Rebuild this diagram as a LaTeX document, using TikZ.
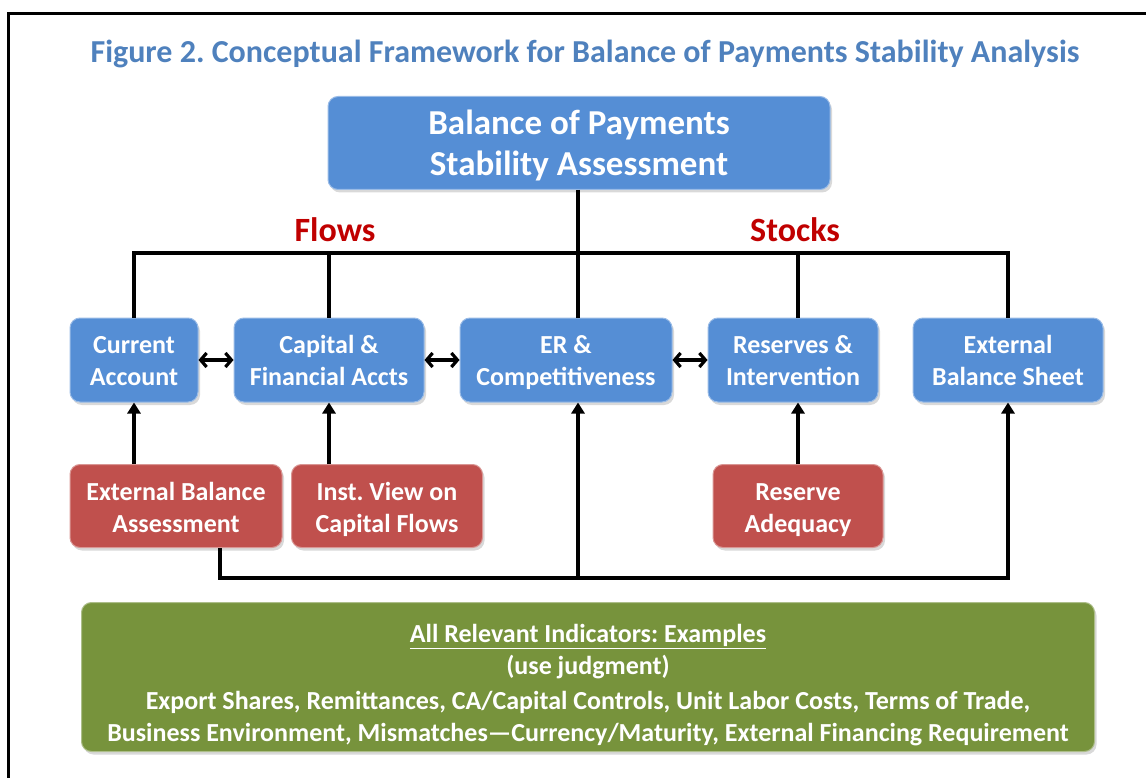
\documentclass[tikz,border=0pt]{standalone}
\usepackage{fontspec}
\setmainfont{Carlito}
\usetikzlibrary{arrows.meta,shadows}
\definecolor{bopcolor0000}{RGB}{79,129,189}
\definecolor{bopcolor0001}{RGB}{85,142,213}
\definecolor{bopcolor0002}{RGB}{192,80,77}
\definecolor{bopcolor0003}{RGB}{119,147,60}
\definecolor{bopcolor0004}{RGB}{192,0,0}
\frenchspacing
\newcommand{\boptab}[2]{\begin{tabular}{@{}c@{}}\rule{0pt}{\dimexpr\ht\strutbox+#1\relax}#2\end{tabular}}
\begin{document}
\begin{tikzpicture}[yscale=-1
,pbox/.style={rounded corners=10pt,line width=1pt,text=white,inner sep=0pt,font=\bfseries\fontsize{26}{32}\selectfont,drop shadow={opacity=0.3,shadow xshift=2pt,shadow yshift=-3pt}}
,pblue/.style={pbox,fill=bopcolor0001,draw=bopcolor0001!60!white,minimum height=84pt}
,pred/.style={pbox,fill=bopcolor0002,draw=bopcolor0002!60!white,minimum height=83pt}
,pstyle1/.style={color=black,line width=3.2pt}
,pstyle2/.style={pstyle1,{Straight Barb[length=6pt,width=14pt]}-{Straight Barb[length=6pt,width=14pt]}}
,pstyle3/.style={pstyle1,-{Triangle[length=11pt,width=13pt]}}
]
\useasboundingbox (0pt,0pt) rectangle (1146pt,778pt);
\draw[line width=3pt] (8pt,14pt) rectangle (1170pt,800pt);
\node (title) at (585pt,54pt)[color=bopcolor0000,font=\bfseries\fontsize{32}{38}\selectfont]{Figure 2. Conceptual Framework for Balance of Payments Stability Analysis};
\node (bop) at (579pt,143pt)[pblue,minimum width=502pt,minimum height=93pt,font=\bfseries\fontsize{35}{41}\selectfont]{\boptab{8pt}{Balance of Payments\\Stability Assessment}};
\node (flows) at (335pt,230pt)[color=bopcolor0004,font=\bfseries\fontsize{34}{40}\selectfont]{Flows};
\node (stocks) at (795pt,230pt)[color=bopcolor0004,font=\bfseries\fontsize{34}{40}\selectfont]{Stocks};
\node (ca) at (134pt,360pt)[pblue,minimum width=128pt]{\boptab{6pt}{Current\\Account}};
\node (cfa) at (329pt,360pt)[pblue,minimum width=190pt]{\boptab{6pt}{Capital \&\\Financial Accts}};
\node (er) at (566pt,360pt)[pblue,minimum width=212pt]{\boptab{6pt}{ER \&\\Competitiveness}};
\node (ri) at (793pt,360pt)[pblue,minimum width=170pt]{\boptab{6pt}{Reserves \&\\Intervention}};
\node (ebs) at (1008pt,360pt)[pblue,minimum width=190pt]{\boptab{6pt}{External\\Balance Sheet}};
\node (eba) at (176pt,506pt)[pred,minimum width=212pt]{\boptab{9pt}{External Balance\\Assessment}};
\node (ivc) at (387pt,506pt)[pred,minimum width=191pt]{\boptab{9pt}{Inst. View on\\Capital Flows}};
\node (ra) at (798pt,506pt)[pred,minimum width=170pt]{\boptab{9pt}{Reserve\\Adequacy}};
\node (ind) at (588pt,677pt)[pbox,fill=bopcolor0003,draw=bopcolor0003!60!white,minimum width=1013pt,minimum height=149pt]{\boptab{17pt}{\underline{All Relevant Indicators: Examples}\\(use judgment)\\[3pt]Export Shares, Remittances, CA/Capital Controls, Unit Labor Costs, Terms of Trade,\\Business Environment, Mismatches---Currency/Maturity, External Financing Requirement}};
\coordinate (hub) at (578pt,253pt);
\coordinate (base) at (578pt,578pt);
\draw[pstyle1] (bop.south -| hub) -- (er.north -| hub);
\draw[pstyle1] (ca.north) |- (hub) -| (ebs.north);
\draw[pstyle1] (cfa.north) -- (cfa.north |- hub);
\draw[pstyle1] (ri.north -| ra.north) -- (hub -| ra.north);
\draw[pstyle2] (ca.east) -- (cfa.west);
\draw[pstyle2] (cfa.east) -- (er.west);
\draw[pstyle2] (er.east) -- (ri.west);
\draw[pstyle3] (eba.north -| ca.south) -- (ca.south);
\draw[pstyle3] (ivc.north -| cfa.south) -- (cfa.south);
\draw[pstyle3] (ra.north) -- (ri.south -| ra.north);
\draw[pstyle3] ([xshift=44pt]eba.south) |- (base) -| (ebs.south);
\draw[pstyle3] (base) -- (er.south -| base);
\end{tikzpicture}
\end{document}
